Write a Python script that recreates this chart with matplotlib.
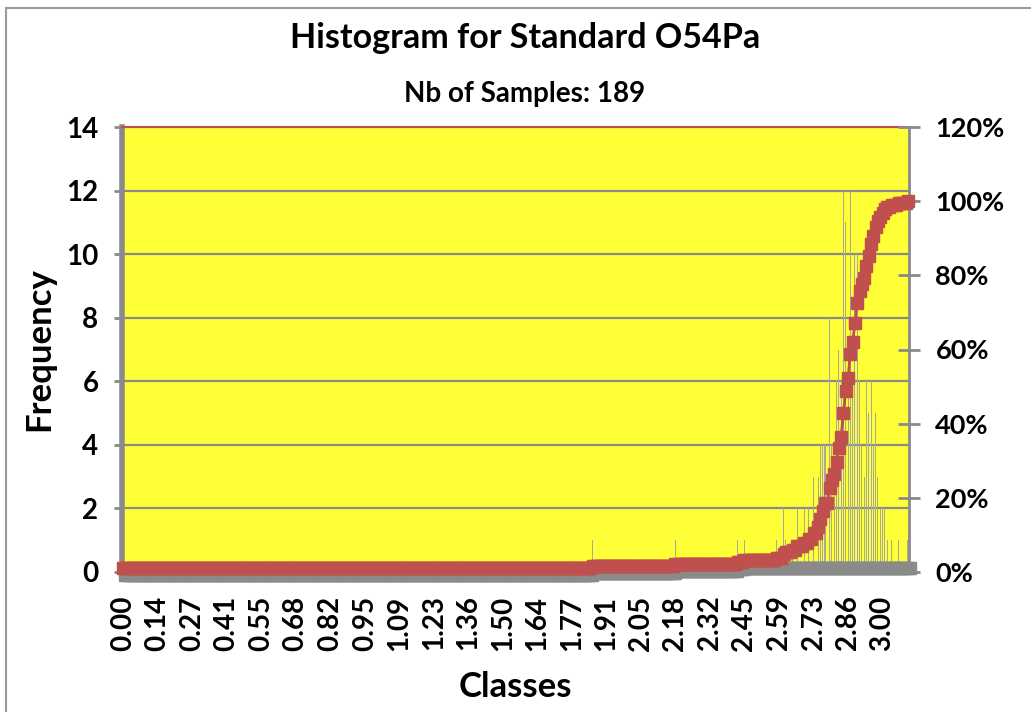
#!/usr/bin/env python
"""
Histogram for Standard O54Pa - frequency bars + cumulative % curve
"""

import numpy as np
import matplotlib
matplotlib.use("Agg")
import matplotlib.pyplot as plt
from matplotlib.patches import Rectangle
from matplotlib.ticker import FuncFormatter
import matplotlib.transforms as mtransforms

# ---- data ----
n_classes = 342                      # classes 0.00 .. 3.10
class_width = 3.0 / 330

# non-empty classes (index) and their counts
bin_idx = [0, 204, 240, 267, 270, 284, 287, 288, 291, 293,
           296, 298, 300, 302, 303, 304, 305, 307, 308, 309,
           310, 311, 312, 313, 314, 315, 316, 317, 318, 319,
           320, 321, 322, 323, 324, 325, 326, 327, 328, 329,
           330, 331, 332, 334, 337, 341]
bin_count = [2, 1, 1, 1, 1, 1, 2, 1, 1, 2,
             2, 2, 3, 3, 4, 4, 4, 8, 4, 3,
             6, 7, 6, 12, 11, 7, 12, 6, 10, 10,
             6, 4, 3, 6, 5, 6, 4, 5, 3, 2,
             2, 2, 1, 1, 1, 1]

tick_pos = [0, 15, 30, 45, 60, 75, 90, 105, 120, 135, 150, 165,
            180, 195, 210, 225, 240, 255, 270, 285, 300, 315, 330]
tick_labels = ["0.00", "0.14", "0.27", "0.41", "0.55", "0.68", "0.82",
               "0.95", "1.09", "1.23", "1.36", "1.50", "1.64", "1.77",
               "1.91", "2.05", "2.18", "2.32", "2.45", "2.59", "2.73",
               "2.86", "3.00"]

freq = np.zeros(n_classes)
freq[bin_idx] = bin_count
cum = np.cumsum(freq) / freq.sum()
x = np.arange(n_classes)

plt.rcParams['font.family'] = ['Lato', 'DejaVu Sans']
plt.rcParams['font.weight'] = 'bold'

RED = '#c0504d'
GREY = '#8a8a8a'

fig = plt.figure(figsize=(10.31, 7.12), dpi=100)

# chart border
fig.add_artist(Rectangle((6 / 1031, -0.05), 1.2, 1.05 - 8 / 712,
                         transform=fig.transFigure, fill=False,
                         edgecolor='#9a9a9a', lw=1.5))

ax = fig.add_axes([122 / 1031, 1 - 572 / 712, 787 / 1031, 445 / 712])
ax.set_facecolor('#ffff38')
ax.bar(x, freq, width=0.45, color='#a9a99a', linewidth=0, zorder=2)
ax.set_xlim(-0.5, n_classes - 0.5)
ax.set_ylim(0, 14)
ax.set_yticks(range(0, 15, 2))
ax.yaxis.grid(True, color=GREY, lw=1.6, zorder=1)
ax.set_axisbelow(True)
ax.set_xticks(tick_pos)
ax.set_xticklabels(tick_labels, rotation=90, fontsize=20, fontweight='bold')
ax.tick_params(axis='x', length=0, pad=17)
ax.tick_params(axis='y', length=6, width=2, color=GREY, pad=11,
               labelsize=20)
for lab in ax.get_yticklabels():
    lab.set_fontweight('bold')

ax.spines['left'].set_color(GREY)
ax.spines['left'].set_linewidth(4)
ax.spines['top'].set_color(RED)
ax.spines['top'].set_linewidth(1.5)
ax.spines['right'].set_visible(False)
ax.spines['bottom'].set_visible(False)

ax.set_ylabel("Frequency", fontsize=25, fontweight='bold', labelpad=8)
ax.set_xlabel("Classes", fontsize=25, fontweight='bold', labelpad=14)

# cumulative percentage on the right axis
ax2 = ax.twinx()
ax2.set_ylim(0, 1.2)
ax2.set_yticks(np.arange(0, 1.21, 0.2))
ax2.yaxis.set_major_formatter(FuncFormatter(lambda v, p: f"{v * 100:.0f}%"))
ax2.tick_params(axis='y', length=16, width=2, color=GREY, direction='inout',
                pad=11, labelsize=19.5)
for lab in ax2.get_yticklabels():
    lab.set_fontweight('bold')
for s in ['left', 'top', 'bottom']:
    ax2.spines[s].set_visible(False)
ax2.spines['right'].set_color(GREY)
ax2.spines['right'].set_linewidth(2)

# shadow band under the curve
shadow = mtransforms.offset_copy(ax2.transData, fig=fig, x=2, y=-7,
                                 units='dots')
ax2.plot(x, np.minimum(cum, 0.03), color=GREY, lw=2, marker='s', ms=8.5,
         mec=GREY, mfc=GREY, transform=shadow, clip_on=False, zorder=1)
ax2.plot(x, cum, color=RED, lw=2, marker='s', ms=8.5, mec=RED, mfc=RED,
         clip_on=False, zorder=3)

fig.text(525 / 1031, 1 - 38 / 712, "Histogram for Standard O54Pa",
         ha='center', va='center', fontsize=24.5, fontweight='bold')
fig.text(525 / 1031, 1 - 94 / 712, "Nb of Samples: 189",
         ha='center', va='center', fontsize=20, fontweight='bold')

fig.savefig("out.png", dpi=100)
